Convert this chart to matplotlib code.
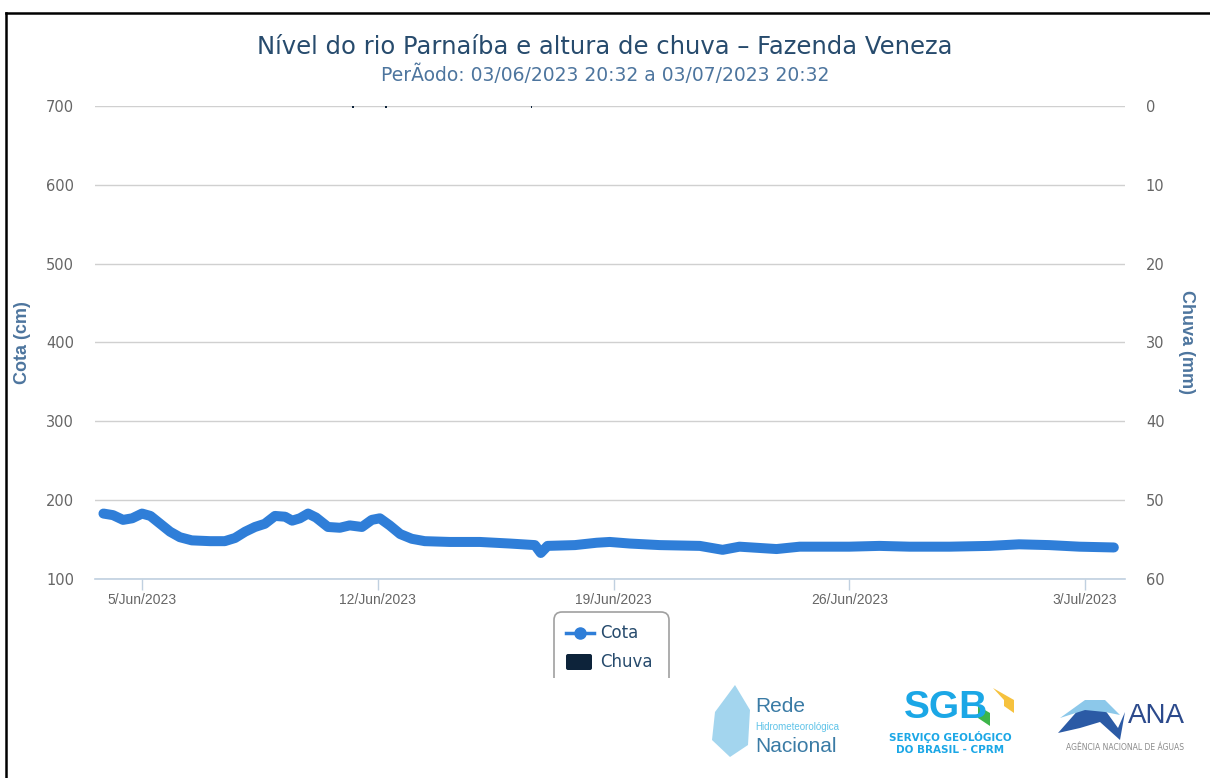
import matplotlib
matplotlib.use("Agg")
import matplotlib.pyplot as plt
import pandas as pd
from matplotlib.patches import FancyBboxPatch, Rectangle, Polygon
from matplotlib.lines import Line2D

# leituras de cota (cm)
cota_times = [
    "2023-06-03 20:32", "2023-06-04 03:20", "2023-06-04 10:30", "2023-06-04 17:00",
    "2023-06-05 00:00", "2023-06-05 06:00", "2023-06-05 13:00", "2023-06-05 20:00",
    "2023-06-06 03:00", "2023-06-06 11:30", "2023-06-07 00:30", "2023-06-07 11:00",
    "2023-06-07 18:15", "2023-06-08 01:30", "2023-06-08 08:30", "2023-06-08 15:30",
    "2023-06-08 22:45", "2023-06-09 06:00", "2023-06-09 11:00", "2023-06-09 16:30",
    "2023-06-09 22:20", "2023-06-10 04:00", "2023-06-10 12:30", "2023-06-10 21:00",
    "2023-06-11 04:00", "2023-06-11 12:45", "2023-06-11 19:45", "2023-06-12 01:30",
    "2023-06-12 08:30", "2023-06-12 16:00", "2023-06-13 00:15", "2023-06-13 09:30",
    "2023-06-14 03:20", "2023-06-15 00:45", "2023-06-15 22:00", "2023-06-16 16:00",
    "2023-06-16 20:10", "2023-06-17 01:00", "2023-06-17 20:30", "2023-06-18 12:00",
    "2023-06-18 21:20", "2023-06-19 11:30", "2023-06-20 09:00", "2023-06-21 13:30",
    "2023-06-22 05:45", "2023-06-22 17:45", "2023-06-23 20:10", "2023-06-24 12:40",
    "2023-06-26 00:00", "2023-06-26 21:30", "2023-06-27 19:00", "2023-06-28 23:30",
    "2023-06-30 04:00", "2023-07-01 01:00", "2023-07-01 22:30", "2023-07-02 20:00",
    "2023-07-03 20:32",
]
cota_values = [
    183, 181, 175, 177,
    183, 180, 170, 160,
    153, 149, 148, 148,
    152, 160, 166, 170,
    180, 179, 174, 177,
    183, 178, 166, 165,
    168, 166, 175, 177,
    168, 157, 151, 148,
    147, 147, 145, 143,
    133, 142, 143, 146,
    147, 145, 143, 142,
    137, 141, 138, 141,
    141, 142, 141, 141,
    142, 144, 143, 141,
    140,
]

# chuva (mm)
chuva_times = ["2023-06-11 06:15", "2023-06-12 05:45", "2023-06-16 13:45"]
chuva_values = [0.2, 0.2, 0.2]

tick_dates = ["2023-06-05", "2023-06-12", "2023-06-19", "2023-06-26", "2023-07-03"]
tick_labels = ["5/Jun/2023", "12/Jun/2023", "19/Jun/2023", "26/Jun/2023", "3/Jul/2023"]
cota_ticks = [100, 200, 300, 400, 500, 600, 700]
chuva_ticks = [0, 10, 20, 30, 40, 50, 60]

blue = "#2f7ed8"
navy = "#0d233a"
axis_title_c = "#4d759e"
label_c = "#666666"

fig = plt.figure(figsize=(12.1, 7.78), dpi=100)
fig.patch.set_facecolor("white")

ax = fig.add_axes([95 / 1210, 1 - 579 / 778, 1030 / 1210, 473 / 778])
ax2 = ax.twinx()

t = pd.to_datetime(cota_times)
ax.plot(t, cota_values, color=blue, lw=7.2, solid_capstyle="round",
        solid_joinstyle="round", zorder=3)

tc = pd.to_datetime(chuva_times)
ax2.bar(tc, chuva_values, width=0.04, color=navy, zorder=3)

ax.set_xlim(pd.Timestamp("2023-06-03 14:30"), pd.Timestamp("2023-07-04 04:30"))
ax.set_ylim(100, 700)
ax2.set_ylim(60, 0)

ax.set_yticks(cota_ticks)
ax.set_yticklabels([str(v) for v in cota_ticks])
ax2.set_yticks(chuva_ticks)
ax2.set_yticklabels([str(v) for v in chuva_ticks])
ax.set_xticks(pd.to_datetime(tick_dates))
ax.set_xticklabels(tick_labels)

ax.grid(axis="y", color="#d0d0d0", lw=1)
ax.set_axisbelow(True)
for a in (ax, ax2):
    for s in a.spines.values():
        s.set_visible(False)
ax.spines["bottom"].set_visible(True)
ax.spines["bottom"].set_color("#c0d0e0")
ax.spines["bottom"].set_linewidth(1.2)

ax.tick_params(axis="y", length=0, pad=15, labelsize=10.5, labelcolor=label_c)
ax2.tick_params(axis="y", length=0, pad=15, labelsize=10.5, labelcolor=label_c)
ax.tick_params(axis="x", length=8, width=1, color="#c0d0e0", pad=2,
               labelsize=10, labelcolor=label_c)
for lbl in ax.get_xticklabels():
    lbl.set_fontfamily("Liberation Sans")

ax.set_ylabel("Cota (cm)", color=axis_title_c, fontsize=13, fontweight="bold",
              labelpad=11, family="Liberation Sans")
ax2.set_ylabel("Chuva (mm)", color=axis_title_c, fontsize=13, fontweight="bold",
               rotation=270, labelpad=22, family="Liberation Sans")

fig.text(0.5, 1 - 47 / 778, "Nível do rio Parnaíba e altura de chuva – Fazenda Veneza",
         ha="center", va="center", fontsize=17.5, color="#274b6d")
fig.text(0.5, 1 - 75 / 778, "PerÃodo: 03/06/2023 20:32 a 03/07/2023 20:32",
         ha="center", va="center", fontsize=13.5, color=axis_title_c)

# camada em pixels para moldura, legenda e logotipos
ov = fig.add_axes([0, 0, 1, 1], zorder=5)
ov.set_xlim(0, 1210)
ov.set_ylim(778, 0)
ov.axis("off")
ov.patch.set_alpha(0)

ov.add_line(Line2D([6, 6], [13, 778], color="black", lw=1.8))
ov.add_line(Line2D([6, 1210], [13, 13], color="black", lw=1.8))

# legenda (cortada embaixo)
ov.add_patch(FancyBboxPatch((554, 612), 115, 90, boxstyle="round,pad=0,rounding_size=8",
                            fc="white", ec="#a0a0a0", lw=1.2))
ov.add_patch(Rectangle((548, 678), 130, 30, fc="white", ec="none", zorder=6))
ov.add_line(Line2D([566, 594], [633, 633], color=blue, lw=2.5))
ov.plot([580], [633], "o", color=blue, ms=8)
ov.add_patch(FancyBboxPatch((566, 654), 26, 16, boxstyle="round,pad=0,rounding_size=2",
                            fc=navy, ec="none"))
ov.text(600, 633, "Cota", va="center", fontsize=12, color="#274b6d")
ov.text(600, 662, "Chuva", va="center", fontsize=12, color="#274b6d")

# logotipos aproximados
ov.add_patch(Polygon([[735, 685], [750, 710], [748, 745], [730, 757], [712, 740],
                      [715, 712]], closed=True, fc="#7cc4e8", ec="none", alpha=0.7))
ov.text(755, 707, "Rede", fontsize=15, color="#3a7ba5", family="Liberation Sans",
        va="center")
ov.text(755, 727, "Hidrometeorológica", fontsize=7, color="#5fc3e8",
        family="Liberation Sans", va="center")
ov.text(755, 746, "Nacional", fontsize=15, color="#3a7ba5", family="Liberation Sans",
        va="center")

ov.text(946, 708, "SGB", fontsize=28, fontweight="bold", color="#1ba7e6",
        family="Liberation Sans", ha="center", va="center")
ov.add_patch(Polygon([[993, 688], [1014, 700], [1014, 713], [1004, 706], [1004, 700]],
                     fc="#f6c23e", ec="none"))
ov.add_patch(Polygon([[978, 706], [990, 713], [990, 726], [978, 718]],
                     fc="#3db54a", ec="none"))
ov.text(950, 737, "SERVIÇO GEOLÓGICO", fontsize=7.5, fontweight="bold",
        color="#1ba7e6", ha="center", va="center")
ov.text(950, 750, "DO BRASIL - CPRM", fontsize=7.5, fontweight="bold",
        color="#1ba7e6", ha="center", va="center")

ov.add_patch(Polygon([[1058, 733], [1080, 708], [1100, 703], [1118, 728], [1125, 712],
                      [1120, 740], [1100, 722], [1080, 728]], fc="#2b5aa5", ec="none"))
ov.add_patch(Polygon([[1060, 718], [1085, 700], [1105, 700], [1120, 715], [1105, 712],
                      [1085, 710]], fc="#8cc8ea", ec="none"))
ov.text(1128, 716, "ANA", fontsize=20, color="#2c4a8c", va="center",
        family="Liberation Sans")
ov.text(1125, 748, "AGÊNCIA NACIONAL DE ÁGUAS", fontsize=5.5, color="#8a8a8a",
        ha="center", va="center")

fig.savefig("out.png", dpi=100, facecolor="white")
